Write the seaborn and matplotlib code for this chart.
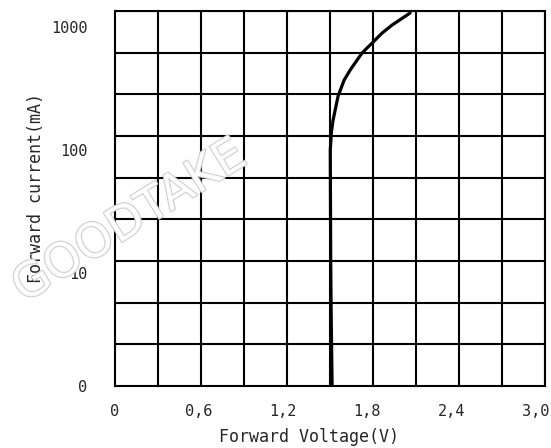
import numpy as np
import pandas as pd
import seaborn as sns
import matplotlib.pyplot as plt
import matplotlib.patheffects as pe
from matplotlib.ticker import NullFormatter

# forward voltage (V) vs forward current (mA)
voltage = [1.55, 1.543, 1.54, 1.537, 1.545, 1.557, 1.593, 1.636, 1.679, 1.764, 1.843, 1.907, 1.98, 2.107]
current = [1.2, 5, 13, 100, 140, 175, 275, 370, 447, 615, 755, 893, 1040, 1300]

x_ticks = [0, 0.6, 1.2, 1.8, 2.4, 3.0]
x_labels = ["0", "0,6", "1,2", "1,8", "2,4", "3,0"]
y_lo, y_hi = 1.205, 1349
y_ticks = [y_lo, 10, 100, 1000]
y_labels = ["0", "10", "100", "1000"]

df = pd.DataFrame({"Forward Voltage(V)": voltage, "Forward current(mA)": current})

sns.set_style("white")
plt.rcParams["font.family"] = ["DejaVu Sans Mono", "DejaVu Sans"]

fig = plt.figure(figsize=(5.51, 4.48), dpi=100)
ax = fig.add_axes([115 / 551, 62 / 448, 430 / 551, 375 / 448])

sns.lineplot(data=df, x="Forward Voltage(V)", y="Forward current(mA)",
             sort=False, color="black", linewidth=2.3, ax=ax)

ax.set_yscale("log")
ax.set_xlim(0, 3.07)
ax.set_ylim(y_lo, y_hi)

ax.set_xticks(x_ticks)
ax.set_xticklabels(x_labels)
ax.set_yticks(y_ticks)
ax.set_yticklabels(y_labels)
ax.set_xticks(np.linspace(0, 3.07, 11), minor=True)
ax.set_yticks(np.geomspace(y_lo, y_hi, 10), minor=True)
ax.xaxis.set_minor_formatter(NullFormatter())
ax.yaxis.set_minor_formatter(NullFormatter())
ax.tick_params(which="both", length=0)
ax.tick_params(axis="x", pad=13, labelsize=11)
ax.tick_params(axis="y", pad=20, labelsize=11)
ax.grid(False, which="major")
ax.grid(True, which="minor", color="black", linewidth=1.5)
for s in ax.spines.values():
    s.set_color("black")
    s.set_linewidth(1.5)

ax.set_xlabel("Forward Voltage(V)", fontsize=12)
ax.set_ylabel("Forward current(mA)", fontsize=12)
ax.xaxis.set_label_coords(0.451, -0.112)
ax.yaxis.set_label_coords(-0.163, 0.528)

# watermark
fig.text(0.236, 0.504, "GOODTAKE", fontsize=34, rotation=32, ha="center", va="center",
         color="white", alpha=0.9, family="DejaVu Sans",
         path_effects=[pe.withStroke(linewidth=1.5, foreground="#c8c8c8")])

fig.savefig("out.png", dpi=100)
